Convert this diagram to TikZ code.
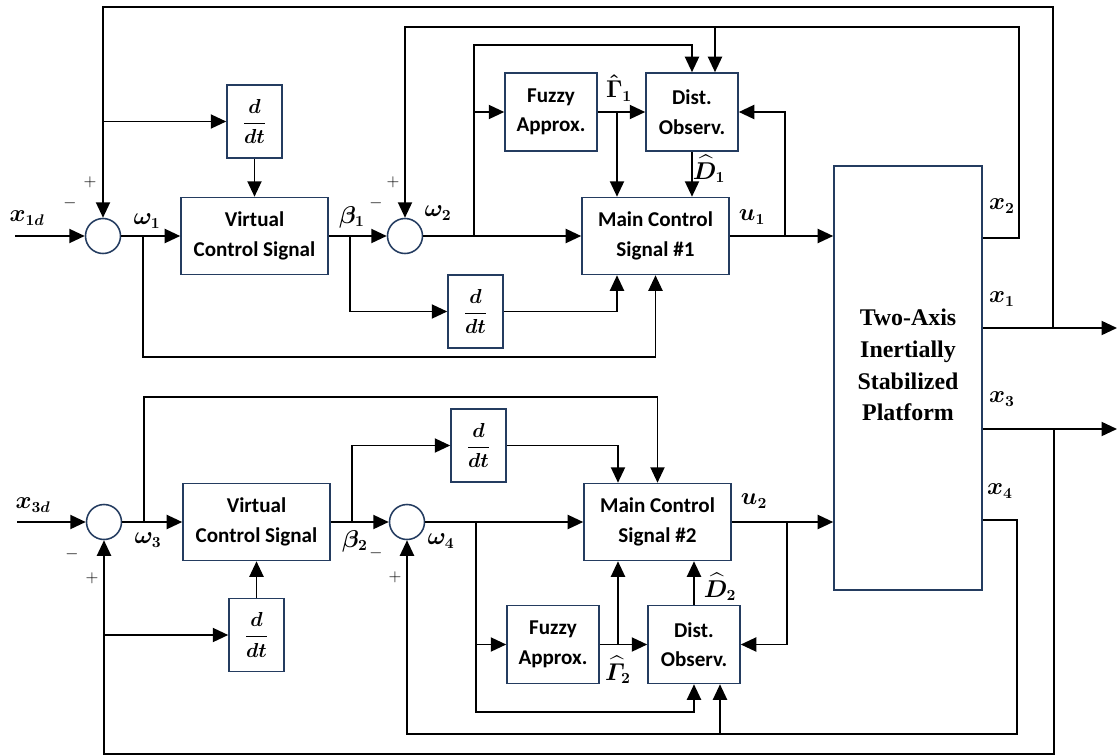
\documentclass[tikz,border=0pt]{standalone}
\usepackage{amsmath}
\usepackage{fontspec}
\setsansfont{Carlito}
\newfontfamily\platfont{Liberation Serif}
\usetikzlibrary{calc,arrows.meta}
\definecolor{boxline}{RGB}{36,60,96}
\tikzset{
  vbox/.style={draw=boxline, line width=1.1pt, minimum width=3.675cm, minimum height=1.925cm,
    inner sep=0pt, align=center, font=\sffamily\bfseries\fontsize{15}{21}\selectfont},
  midbox/.style={vbox, minimum width=2.3cm, minimum height=1.95cm},
  dbox/.style={vbox, minimum width=1.375cm, minimum height=1.825cm, font=\fontsize{15}{17}\selectfont},
  plant/.style={draw=boxline, line width=1.1pt, minimum width=3.7cm, minimum height=10.6cm, inner sep=0pt},
  sumnode/.style={circle, draw=boxline, line width=1.1pt, minimum size=0.875cm, inner sep=0pt},
  sig/.style={inner sep=0pt, font=\fontsize{16}{18}\selectfont},
  sgn/.style={inner sep=0pt, font=\fontsize{12}{14}\selectfont},
  arr/.style={-{Triangle[length=11pt,width=10pt]}}
}
\begin{document}
\begin{tikzpicture}[x=0.025cm,y=-0.025cm,line width=1.3pt]
  \useasboundingbox (0,0) rectangle (1119,756);
  % upper axis
  \node[sumnode] (sumA) at (103,236) {};
  \node[vbox] (vcsA) at (254.5,236) {Virtual\\Control Signal};
  \node[dbox] (ddtA) at (254.5,121.5) {$\boldsymbol{\dfrac{d}{dt}}$};
  \node[sumnode] (sumB) at (405,236) {};
  \node[midbox] (fuzA) at (551,112) {Fuzzy\\Approx.};
  \node[midbox] (obsA) at (692,112) {Dist.\\Observ.};
  \node[vbox] (mcsA) at (655.5,236) {Main Control\\Signal \#1};
  \node[dbox] (ddtB) at (475.5,311.5) {$\boldsymbol{\dfrac{d}{dt}}$};
  % lower axis
  \node[sumnode] (sumC) at (104,522) {};
  \node[vbox] (vcsB) at (256.5,522) {Virtual\\Control Signal};
  \node[dbox] (ddtC) at (256.5,635) {$\boldsymbol{\dfrac{d}{dt}}$};
  \node[sumnode] (sumD) at (407,522) {};
  \node[dbox] (ddtD) at (478.5,445.5) {$\boldsymbol{\dfrac{d}{dt}}$};
  \node[vbox] (mcsB) at (657.5,522) {Main Control\\Signal \#2};
  \node[midbox] (fuzB) at (553,644.5) {Fuzzy\\Approx.};
  \node[midbox] (obsB) at (694,644.5) {Dist.\\Observ.};
  % platform
  \node[plant] (plat) at (908,378) {};
  \node[align=center, inner sep=0pt, font=\platfont\bfseries\fontsize{17}{22.5}\selectfont]
    (platlbl) at (908,365) {Two-Axis\\Inertially\\Stabilized\\Platform};

  \coordinate (inA) at (15,236);
  \coordinate (oA) at (1117,328);
  \coordinate (tA) at (1053,7);
  \coordinate (oB) at (1019,238);
  \coordinate (tB) at (1019,27);
  \coordinate (dA) at ($(obsA.north)+(23,0)$);
  \coordinate (jA) at (474,45);
  \coordinate (gA) at (617,112);
  \coordinate (uA) at (785,236);
  \coordinate (bA) at (350,236);
  \coordinate (wA) at (143,236);
  \coordinate (lA) at (143,357);

  \draw[arr] (inA) -- (sumA.west);
  \draw[arr] (sumA.east) -- (vcsA.west);
  \draw[arr] (vcsA.east) -- (sumB.west);
  \draw[arr] (sumB.east) -- (mcsA.west);
  \draw[arr] (mcsA.east) -- (mcsA.east -| plat.west);
  \draw[arr] (oA -| plat.east) -- (oA);
  \draw[arr] (tA |- oA) -- (tA) -| (sumA.north);
  \draw[arr] (sumA |- ddtA) -- (ddtA.west);
  \draw[arr] (ddtA.south) -- (vcsA.north);
  \draw[arr] (oB -| plat.east) -- (oB) -- (tB) -| (sumB.north);
  \draw[arr] (dA |- tB) -- (dA);
  \draw[arr] (jA |- sumB) -- (jA) -| (obsA.north);
  \draw[arr] (jA |- fuzA) -- (fuzA.west);
  \draw[arr] (fuzA.east) -- (obsA.west);
  \draw[arr] (gA) -- (gA |- mcsA.north);
  \draw[arr] (obsA.south) -- (obsA.south |- mcsA.north);
  \draw[arr] (uA) |- (obsA.east);
  \draw[arr] (bA) |- (ddtB.west);
  \draw[arr] (ddtB.east) -| (gA |- mcsA.south);
  \draw[arr] (wA) -- (lA) -| (mcsA.south);

  \coordinate (inC) at (17,522);
  \coordinate (oC) at (1117,429);
  \coordinate (tC) at (1054,754);
  \coordinate (oD) at (1017,520);
  \coordinate (tD) at (1017,734);
  \coordinate (dC) at ($(obsB.south)+(26,0)$);
  \coordinate (wC) at (144,522);
  \coordinate (hC) at (144,397);
  \coordinate (bC) at (352,522);
  \coordinate (gC) at (618,644.5);
  \coordinate (wD) at (476,522);
  \coordinate (lD) at (476,712);
  \coordinate (uC) at (787,522);

  \draw[arr] (inC) -- (sumC.west);
  \draw[arr] (sumC.east) -- (vcsB.west);
  \draw[arr] (vcsB.east) -- (sumD.west);
  \draw[arr] (sumD.east) -- (mcsB.west);
  \draw[arr] (mcsB.east) -- (mcsB.east -| plat.west);
  \draw[arr] (oC -| plat.east) -- (oC);
  \draw[arr] (tC |- oC) -- (tC) -| (sumC.south);
  \draw[arr] (sumC |- ddtC) -- (ddtC.west);
  \draw[arr] (ddtC.north) -- (vcsB.south);
  \draw[arr] (wC) -- (hC) -| (mcsB.north);
  \draw[arr] (bC) |- (ddtD.west);
  \draw[arr] (ddtD.east) -| (gC |- mcsB.north);
  \draw[arr] (oD -| plat.east) -- (oD) -- (tD) -| (sumD.south);
  \draw[arr] (dC |- tD) -- (dC);
  \draw[arr] (wD) -- (lD) -| (obsB.south);
  \draw[arr] (wD |- fuzB) -- (fuzB.west);
  \draw[arr] (fuzB.east) -- (obsB.west);
  \draw[arr] (gC) -- (gC |- mcsB.south);
  \draw[arr] (obsB.north) -- (obsB.north |- mcsB.south);
  \draw[arr] (uC) |- (obsB.east);

  % signal labels
  \node[sig] (lxA) at (27,218) {$\boldsymbol{x_{1d}}$};
  \node[sig] (lwA) at (147,221) {$\boldsymbol{\omega_1}$};
  \node[sig] (lbA) at (352,217) {$\boldsymbol{\beta_1}$};
  \node[sig] (lwB) at (438,213) {$\boldsymbol{\omega_2}$};
  \node[sig] (lgA) at (619,88) {$\boldsymbol{\hat{\Gamma}_1}$};
  \node[sig] (ldA) at (709,169) {$\boldsymbol{\widehat{D}_1}$};
  \node[sig] (luA) at (752,217) {$\boldsymbol{u_1}$};
  \node[sig] (lx2) at (1002,206) {$\boldsymbol{x_2}$};
  \node[sig] (lx1) at (1002,299) {$\boldsymbol{x_1}$};
  \node[sig] (lx3) at (1002,399) {$\boldsymbol{x_3}$};
  \node[sig] (lx4) at (1000,491) {$\boldsymbol{x_4}$};
  \node[sig] (lxC) at (33,505) {$\boldsymbol{x_{3d}}$};
  \node[sig] (lwC) at (148,540) {$\boldsymbol{\omega_3}$};
  \node[sig] (lbC) at (355,541) {$\boldsymbol{\beta_2}$};
  \node[sig] (lwD) at (441,541) {$\boldsymbol{\omega_4}$};
  \node[sig] (luC) at (754,501) {$\boldsymbol{u_2}$};
  \node[sig] (ldC) at (720,587) {$\boldsymbol{\widehat{D}_2}$};
  \node[sig] (lgC) at (618,670) {$\boldsymbol{\widehat{\varGamma}_2}$};
  % signs
  \node[sgn] (mA) at (70,203) {$-$};
  \node[sgn] (pA) at (90,182) {$+$};
  \node[sgn] (mB) at (376,203) {$-$};
  \node[sgn] (pB) at (393,182) {$+$};
  \node[sgn] (mC) at (72,554) {$-$};
  \node[sgn] (pC) at (92,578) {$+$};
  \node[sgn] (mD) at (376,553) {$-$};
  \node[sgn] (pD) at (395,577) {$+$};
\end{tikzpicture}
\end{document}
